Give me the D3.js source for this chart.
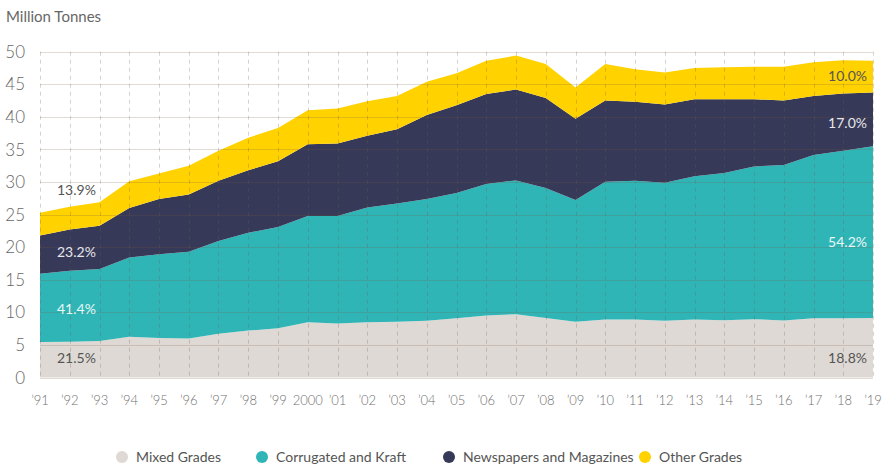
<!DOCTYPE html>
<html>
<head>
<meta charset="utf-8">
<script src="https://cdn.jsdelivr.net/npm/d3@7"></script>
<style>
  html, body { margin: 0; padding: 0; background: #ffffff; }
  svg { display: block; font-family: Lato, "Open Sans", sans-serif; }
</style>
</head>
<body>
<svg id="chart" width="889" height="464"></svg>
<script>
// Paper recovered, million tonnes, by grade
const years = [1991, 1992, 1993, 1994, 1995, 1996, 1997, 1998, 1999, 2000,
               2001, 2002, 2003, 2004, 2005, 2006, 2007, 2008, 2009, 2010,
               2011, 2012, 2013, 2014, 2015, 2016, 2017, 2018, 2019];
const mixedGrades = [5.44, 5.5, 5.6, 6.27, 6.06, 6.0, 6.7, 7.2, 7.55, 8.47,
                     8.3, 8.47, 8.57, 8.7, 9.08, 9.5, 9.72, 9.15, 8.55, 8.9,
                     8.9, 8.7, 8.9, 8.8, 8.95, 8.75, 9.1, 9.1, 9.14];
const corrugatedKraft = [10.47, 10.9, 11.05, 12.13, 12.84, 13.3, 14.25, 15.0, 15.55, 16.33,
                         16.5, 17.63, 18.13, 18.7, 19.22, 20.2, 20.53, 19.95, 18.7, 21.15,
                         21.3, 21.2, 22.0, 22.6, 23.45, 23.85, 25.05, 25.7, 26.34];
const newspapersMagazines = [5.87, 6.3, 6.65, 7.6, 8.5, 8.8, 9.25, 9.6, 10.1, 11.0,
                             11.1, 11.0, 11.4, 12.9, 13.5, 13.8, 13.95, 13.8, 12.45, 12.45,
                             12.1, 12.0, 11.8, 11.3, 10.3, 9.9, 9.05, 8.8, 8.26];
const otherGrades = [3.52, 3.5, 3.6, 4.1, 3.9, 4.4, 4.6, 5.0, 5.1, 5.2,
                     5.4, 5.3, 5.1, 5.1, 4.9, 5.1, 5.2, 5.2, 4.8, 5.6,
                     5.0, 4.9, 4.8, 4.9, 5.0, 5.2, 5.2, 5.1, 4.86];

const seriesNames = ["Mixed Grades", "Corrugated and Kraft", "Newspapers and Magazines", "Other Grades"];
const seriesColors = ["#ded9d4", "#2fb5b6", "#363957", "#ffd200"];
const yTicks = [0, 5, 10, 15, 20, 25, 30, 35, 40, 45, 50];
const xTickLabels = ["’91", "’92", "’93", "’94", "’95", "’96", "’97", "’98", "’99", "2000",
                     "’01", "’02", "’03", "’04", "’05", "’06", "’07", "’08", "’09", "’10",
                     "’11", "’12", "’13", "’14", "’15", "’16", "’17", "’18", "’19"];
// Share of each grade in the first and last year
const shareFirst = ["21.5%", "41.4%", "23.2%", "13.9%"];
const shareLast = ["18.8%", "54.2%", "17.0%", "10.0%"];

const svg = d3.select("#chart");
const x = d3.scaleLinear().domain([1991, 2019]).range([40, 873]);
const y = d3.scaleLinear().domain([0, 50]).range([377.5, 51.7]);

const rows = years.map((yr, i) => ({
  year: yr,
  s0: mixedGrades[i],
  s1: corrugatedKraft[i],
  s2: newspapersMagazines[i],
  s3: otherGrades[i]
}));
const stack = d3.stack().keys(["s0", "s1", "s2", "s3"]);
const layers = stack(rows);

const area = d3.area()
  .x(d => x(d.data.year))
  .y0(d => y(d[0]))
  .y1(d => y(d[1]));

svg.append("g").selectAll("path")
  .data(layers)
  .join("path")
  .attr("d", area)
  .attr("fill", (d, i) => seriesColors[i]);

// Grid drawn over the areas
const grid = svg.append("g");
grid.selectAll("line.h")
  .data(yTicks)
  .join("line")
  .attr("class", "h")
  .attr("x1", x(1991)).attr("x2", x(2019))
  .attr("y1", d => Math.round(y(d)) + 0.5).attr("y2", d => Math.round(y(d)) + 0.5)
  .attr("stroke", "rgba(120,90,70,0.22)")
  .attr("stroke-width", 1);
grid.selectAll("line.v")
  .data(years)
  .join("line")
  .attr("class", "v")
  .attr("x1", d => Math.round(x(d)) + 0.5).attr("x2", d => Math.round(x(d)) + 0.5)
  .attr("y1", y(50)).attr("y2", y(0))
  .attr("stroke", "rgba(120,90,70,0.28)")
  .attr("stroke-dasharray", "4,4")
  .attr("stroke-width", 1);

// Y axis labels
svg.append("g").selectAll("text")
  .data(yTicks)
  .join("text")
  .attr("x", 25)
  .attr("y", d => y(d))
  .attr("dy", "0.36em")
  .attr("text-anchor", "end")
  .attr("fill", "#666")
  .attr("font-size", 17)
  .attr("font-weight", 300)
  .text(d => d);

svg.append("text")
  .attr("x", 6).attr("y", 22)
  .attr("fill", "#666")
  .attr("font-size", 15)
  .text("Million Tonnes");

// X axis labels
svg.append("g").selectAll("text")
  .data(years)
  .join("text")
  .attr("x", d => x(d))
  .attr("y", 405)
  .attr("text-anchor", "middle")
  .attr("fill", "#707070")
  .attr("font-size", 13)
  .attr("font-weight", 300)
  .text((d, i) => xTickLabels[i]);

// Share labels at both ends
const labelFill = ["#555", "#e8f7f7", "#e6e6ec", "#555"];
const leftLevels = [3.0, 10.5, 19.26, 28.8];
const rightLevels = [3.0, 20.85, 39.06, 46.28];
svg.append("g").selectAll("text")
  .data(shareFirst)
  .join("text")
  .attr("x", 57)
  .attr("y", (d, i) => y(leftLevels[i]))
  .attr("dy", "0.36em")
  .attr("fill", (d, i) => labelFill[i])
  .attr("font-size", 14)
  .text(d => d);
svg.append("g").selectAll("text")
  .data(shareLast)
  .join("text")
  .attr("x", 867)
  .attr("y", (d, i) => y(rightLevels[i]))
  .attr("dy", "0.36em")
  .attr("text-anchor", "end")
  .attr("fill", (d, i) => labelFill[i])
  .attr("font-size", 14)
  .text(d => d);

// Legend
const legendX = [122, 262, 449, 645];
const legend = svg.append("g").selectAll("g")
  .data(seriesNames)
  .join("g")
  .attr("transform", (d, i) => `translate(${legendX[i]},457)`);
legend.append("circle").attr("r", 6).attr("fill", (d, i) => seriesColors[i]);
legend.append("text")
  .attr("x", 14).attr("dy", "0.36em")
  .attr("fill", "#555")
  .attr("font-size", 14)
  .text(d => d);
</script>
</body>
</html>
